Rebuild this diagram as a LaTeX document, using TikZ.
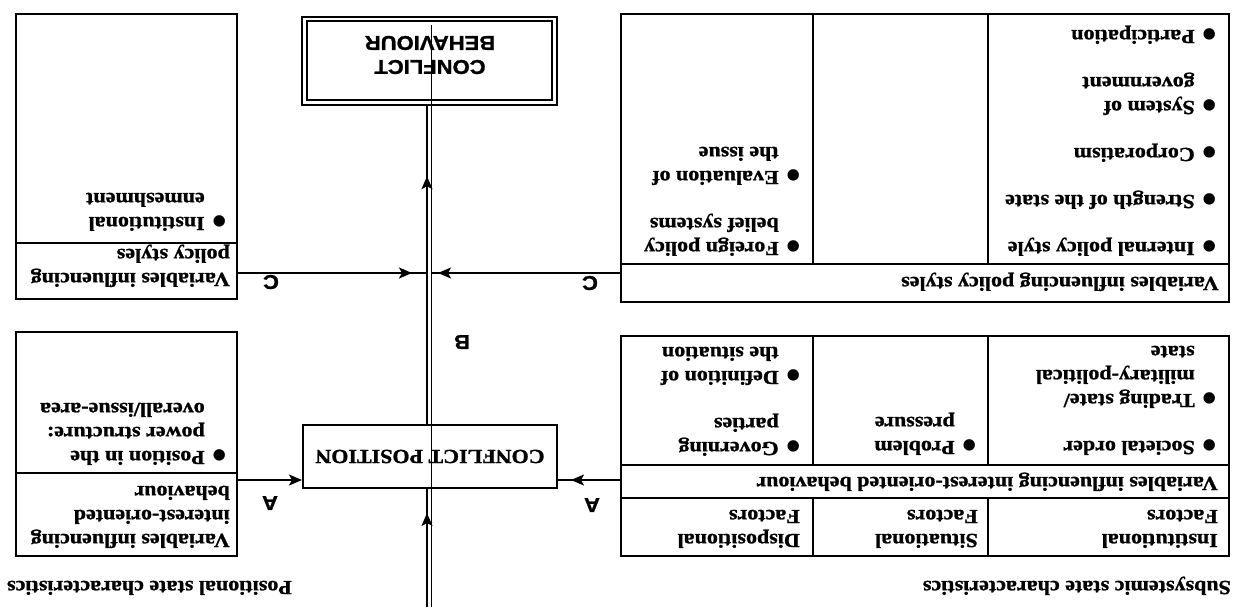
\documentclass[tikz,border=0pt]{standalone}
\usepackage{fontspec}
\setmainfont{Liberation Serif}[FakeStretch=1.1,FakeBold=1.2]
\newfontfamily\sansbf{Liberation Sans}[FakeStretch=1.1,FakeBold=1.2]
\newfontfamily\dejavu{DejaVu Sans}
\usetikzlibrary{arrows.meta,decorations.markings}
\newcommand{\bul}{{\dejavu\fontsize{15}{15}\selectfont ●}}
\newcommand{\blist}[1]{\begin{tabular}[t]{@{}c@{\hspace{8pt}}l@{}}#1\end{tabular}}
\newcommand{\llist}[1]{\begin{tabular}[t]{@{}l@{}}#1\end{tabular}}
\tikzset{
  bx/.style={draw, line width=2pt, inner sep=0pt, anchor=north west},
  tx/.style={font=\fontsize{20}{24}\selectfont\bfseries, inner sep=0pt, anchor=base west},
  sx/.style={font=\sansbf\fontsize{20}{24}\selectfont\bfseries, inner sep=0pt},
  ln/.style={line width=2pt},
  tipend/.style={-{Stealth[length=13pt,width=11pt,inset=3pt]}},
  midtip/.style={postaction={decorate}, decoration={markings, mark=at position #1 with {\arrow{Stealth[length=13pt,width=11pt,inset=3pt]}}}}
}
\begin{document}
\begin{tikzpicture}[x=1pt,y=-1pt]
\fill[white] (0,0) rectangle (1238,607);
\useasboundingbox (0,0) rectangle (1238,607);
\begin{scope}[rotate around={180:(619,303.5)}, transform shape]
% ---- boxes
\node[bx, minimum width=608pt, minimum height=220pt] (ib) at (8,50) {};
\draw[ln] (8,109) -- (616,109) (8,142) -- (616,142);
\draw[ln] (250,50) -- (250,109) (425,50) -- (425,109);
\draw[ln] (250,142) -- (250,270) (425,142) -- (425,270);
\node[bx, minimum width=608pt, minimum height=288pt] (pb) at (8,304) {};
\draw[ln] (8,343) -- (616,343);
\draw[ln] (250,343) -- (250,592) (425,343) -- (425,592);
\node[bx, minimum width=221pt, minimum height=224pt] (si) at (1000,50) {};
\draw[ln] (1000,134) -- (1221,134);
\node[bx, minimum width=221pt, minimum height=285pt] (sp) at (1000,307) {};
\draw[ln] (1000,364) -- (1221,364);
\node[bx, anchor=center, minimum width=254pt, minimum height=63pt, font=\fontsize{20}{24}\selectfont\bfseries] (cp) at (808,150.5) {CONFLICT POSITION};
\node[draw, line width=2.4pt, inner sep=0pt, minimum width=255pt, minimum height=88pt] (cb) at (808.5,546) {};
\draw[line width=1.4pt] (686,507) rectangle (931,586);
\node[sx, align=center] (cbt) at (808,552) {CONFLICT\\BEHAVIOUR};
% ---- texts
\node[tx] (t1) at (7,26) {Subsystemic state characteristics};
\node[tx] (t2) at (946,26) {Positional state characteristics};
\node[tx] (f1) at (20,73) {\llist{Institutional\\Factors}};
\node[tx] (f2) at (260,73) {\llist{Situational\\Factors}};
\node[tx] (f3) at (438,73) {\llist{Dispositional\\Factors}};
\node[tx] (h1) at (20,130) {Variables influencing interest-oriented behaviour};
\node[tx] (h2) at (19,330) {Variables influencing policy styles};
\node[tx] (h3) at (1008,73) {\llist{Variables influencing\\interest-oriented\\behaviour}};
\node[tx] (h4) at (1008,334) {\llist{Variables influencing\\policy styles}};
\node[tx] (l1) at (22,166) {\blist{\bul & Societal order\\[23pt] \bul & Trading state/\\ & military-political\\ & state}};
\node[tx] (l2) at (262,166) {\blist{\bul & Problem\\ & pressure}};
\node[tx] (l3) at (438,165) {\blist{\bul & Governing\\ & parties\\[23pt] \bul & Definition of\\ & the situation}};
\node[tx] (p1) at (22,365) {\blist{\bul & Internal policy style\\[23pt] \bul & Strength of the state\\[23pt] \bul & Corporatism\\[23pt] \bul & System of\\ & government\\[23pt] \bul & Participation}};
\node[tx] (p3) at (438,365) {\blist{\bul & Foreign policy\\ & belief systems\\[23pt] \bul & Evaluation of\\ & the issue}};
\node[tx] (s1) at (1012,156) {\blist{\bul & Position in the\\ & power structure:\\ & overall/issue-area}};
\node[tx] (s2) at (1012,390) {\blist{\bul & Institutional\\ & enmeshment}};
% ---- labels
\node[sx] (la1) at (968,104) {A};
\node[sx] (la2) at (646,102) {A};
\node[sx] (lc1) at (967,325) {C};
\node[sx] (lc2) at (648,324) {C};
\node[sx] (lb) at (776,265) {B};
% ---- connectors
\coordinate (topL) at (811,0);
\coordinate (thin) at (807,0);
\draw[ln, midtip=-24pt] (topL) -- (topL |- cp.north);
\draw[ln, midtip=-70pt] (topL |- cp.south) -- (topL |- cb.north);
\coordinate (aR) at (1000,127);
\coordinate (aL) at (616,127);
\draw[ln, tipend] (aR) -- (aR -| cp.east);
\draw[ln, midtip=-13pt] (aL) -- (aL -| cp.west);
\coordinate (cR) at (1000,334);
\coordinate (cL) at (616,334);
\draw[ln, midtip=-15pt] (cR) -- (cR -| topL);
\draw[ln, midtip=-7pt] (cL) -- (cL -| thin);
\coordinate (thinEnd) at (807,582);
\draw[line width=0.9pt] (thin) -- (thinEnd);
\end{scope}
\end{tikzpicture}
\end{document}
